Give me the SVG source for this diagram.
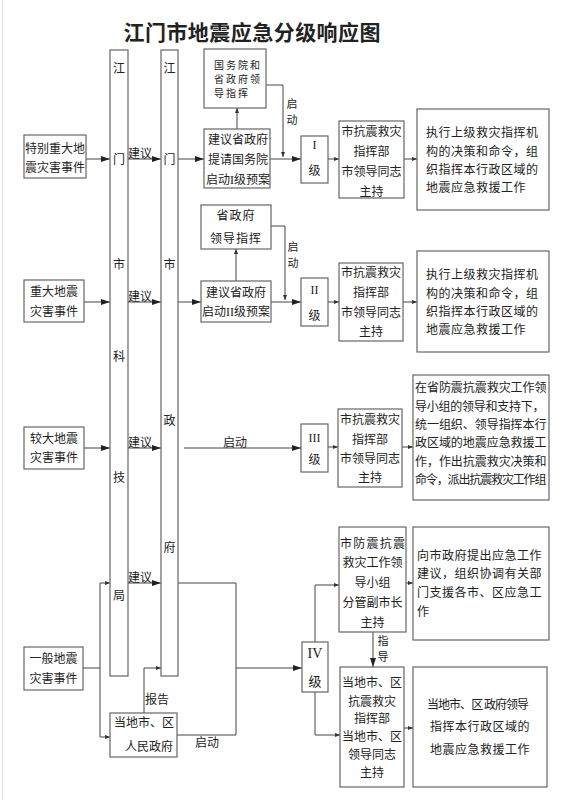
<svg xmlns="http://www.w3.org/2000/svg" width="565" height="800" viewBox="0 0 565 800">
<defs>
<style>
.box{fill:#fff;stroke:#666;stroke-width:1.2}
.ln{fill:none;stroke:#444;stroke-width:1}
.t{font-family:"Noto Sans CJK SC","Noto Sans CJK JP",sans-serif;font-size:12px;fill:#222;text-anchor:middle}
.l{text-anchor:start;letter-spacing:0.5px}
.s{font-size:10px;letter-spacing:2px;text-anchor:start}
.v{font-size:11px}
.r{font-family:"Liberation Serif","Noto Sans CJK SC",serif}
</style>
<marker id="a" markerWidth="9" markerHeight="6" refX="9" refY="3" orient="auto" markerUnits="userSpaceOnUse"><path d="M0,0 L9,3 L0,6 z" fill="#222"/></marker>
<marker id="b" markerWidth="5" markerHeight="4" refX="5" refY="2" orient="auto" markerUnits="userSpaceOnUse"><path d="M0,0 L5,2 L0,4 z" fill="#333"/></marker>
</defs>
<rect width="565" height="800" fill="#fff"/>
<line x1="2.5" y1="0" x2="2.5" y2="800" stroke="#ddd" stroke-width="1"/>
<text x="252" y="40" class="t" style="font-size:21px;font-weight:bold" textLength="257">江门市地震应急分级响应图</text>

<g id="connectors">
<path class="ln" marker-end="url(#a)" d="M86,159 H110"/>
<path class="ln" marker-end="url(#a)" d="M84,302 H110"/>
<path class="ln" marker-end="url(#a)" d="M84,448 H110"/>
<path class="ln" d="M83,668 H100 M100,583 V737"/>
<path class="ln" marker-end="url(#b)" d="M100,583 H110"/>
<path class="ln" marker-end="url(#b)" d="M100,737 H110"/>
<path class="ln" marker-end="url(#a)" d="M128,159 H161"/>
<path class="ln" marker-end="url(#a)" d="M128,302 H161"/>
<path class="ln" marker-end="url(#a)" d="M128,448 H161"/>
<path class="ln" marker-end="url(#a)" d="M128,583 H161"/>
<path class="ln" marker-end="url(#a)" d="M178,159 H204"/>
<path class="ln" marker-end="url(#a)" d="M178,302 H201"/>
<path class="ln" marker-end="url(#a)" d="M184,448 H301"/>
<path class="ln" d="M178,583 H236 V735 H177"/>
<path class="ln" marker-end="url(#a)" d="M236,668 H302"/>
<path class="ln" marker-end="url(#b)" d="M144,713 V668 H161"/>
<path class="ln" marker-end="url(#b)" d="M237,129 V108"/>
<path class="ln" marker-end="url(#b)" d="M236,281 V249"/>
<path class="ln" marker-end="url(#b)" d="M266,85 H283 V157"/>
<path class="ln" marker-end="url(#b)" d="M271,226 H285 V300"/>
<path class="ln" marker-end="url(#a)" d="M270,159 H301"/>
<path class="ln" marker-end="url(#a)" d="M271,302 H301"/>
<path class="ln" marker-end="url(#b)" d="M328,159 H339"/>
<path class="ln" marker-end="url(#b)" d="M328,302 H339"/>
<path class="ln" marker-end="url(#b)" d="M328,447 H338"/>
<path class="ln" marker-end="url(#b)" d="M404,159 H417"/>
<path class="ln" marker-end="url(#b)" d="M403,302 H417"/>
<path class="ln" marker-end="url(#b)" d="M402,447 H413"/>
<path class="ln" marker-end="url(#b)" d="M406,583 H413"/>
<path class="ln" marker-end="url(#b)" d="M404,728 H413"/>
<path class="ln" marker-end="url(#b)" d="M315,642 V585 H339"/>
<path class="ln" marker-end="url(#b)" d="M315,692 V735 H340"/>
<path class="ln" marker-end="url(#a)" d="M373,632 V667"/>
<text class="t" x="140" y="158">建议</text>
<text class="t" x="140" y="301">建议</text>
<text class="t" x="140" y="447">建议</text>
<text class="t" x="140" y="582">建议</text>
<text class="t" x="235" y="447">启动</text>
<text class="t" x="157" y="704">报告</text>
<text class="t" x="207" y="747">启动</text>
<text class="t v" x="292" y="108">启</text>
<text class="t v" x="292" y="124">动</text>
<text class="t v" x="293" y="251">启</text>
<text class="t v" x="293" y="267">动</text>
<text class="t v" x="383" y="645">指</text>
<text class="t v" x="383" y="661">导</text>
</g>

<g id="bar-keji">
<rect class="box" x="110" y="50" width="18" height="626"/>
<text class="t" x="119" y="73">江</text>
<text class="t" x="119" y="164">门</text>
<text class="t" x="119" y="269">市</text>
<text class="t" x="119" y="361">科</text>
<text class="t" x="119" y="482">技</text>
<text class="t" x="119" y="600">局</text>
</g>
<g id="bar-zhengfu">
<rect class="box" x="161" y="50" width="17" height="626"/>
<text class="t" x="169.5" y="73">江</text>
<text class="t" x="169.5" y="164">门</text>
<text class="t" x="169.5" y="269">市</text>
<text class="t" x="169.5" y="425">政</text>
<text class="t" x="169.5" y="552">府</text>
</g>

<g id="ev1"><rect class="box" x="24" y="135" width="62" height="43"/>
<text class="t" x="55" y="153">特别重大地</text><text class="t" x="55" y="172">震灾害事件</text></g>
<g id="ev2"><rect class="box" x="24" y="280" width="60" height="42"/>
<text class="t" x="54" y="296">重大地震</text><text class="t" x="54" y="316">灾害事件</text></g>
<g id="ev3"><rect class="box" x="24" y="427" width="60" height="42"/>
<text class="t" x="54" y="443">较大地震</text><text class="t" x="54" y="462">灾害事件</text></g>
<g id="ev4"><rect class="box" x="24" y="647" width="59" height="43"/>
<text class="t" x="53.5" y="663">一般地震</text><text class="t" x="53.5" y="683">灾害事件</text></g>

<g id="local-gov"><rect class="box" x="110" y="713" width="67" height="44"/>
<text class="t" x="144" y="727">当地市、区</text><text class="t" x="149" y="751">人民政府</text></g>

<g id="state-council"><rect class="box" x="204" y="49" width="62" height="59"/>
<text class="t s" x="214" y="69">国务院和</text><text class="t s" x="214" y="83">省政府领</text><text class="t s" x="214" y="97">导指挥</text></g>
<g id="propose1"><rect class="box" x="204" y="129" width="66" height="59"/>
<text class="t" x="238" y="144">建议省政府</text><text class="t" x="238" y="164">提请国务院</text><text class="t" x="238" y="184">启动<tspan class="r">I</tspan>级预案</text></g>
<g id="province"><rect class="box" x="201" y="205" width="70" height="44"/>
<text class="t" x="236" y="220" style="letter-spacing:1px">省政府</text><text class="t" x="236" y="243" style="letter-spacing:1px">领导指挥</text></g>
<g id="propose2"><rect class="box" x="201" y="281" width="70" height="41"/>
<text class="t" x="236" y="297">建议省政府</text><text class="t" x="236" y="316">启动<tspan class="r">II</tspan>级预案</text></g>

<g id="lv1"><rect class="box" x="301" y="136" width="27" height="47"/>
<text class="t r" x="314.5" y="149">I</text><text class="t" x="314.5" y="175">级</text></g>
<g id="lv2"><rect class="box" x="301" y="278" width="27" height="48"/>
<text class="t r" x="314.5" y="294">II</text><text class="t" x="314.5" y="320">级</text></g>
<g id="lv3"><rect class="box" x="301" y="424" width="27" height="48"/>
<text class="t r" x="314.5" y="442">III</text><text class="t" x="314.5" y="464">级</text></g>
<g id="lv4"><rect class="box" x="302" y="642" width="26" height="50"/>
<text class="t r" x="315" y="658" style="font-size:14px">IV</text><text class="t" x="315" y="686" style="font-size:13px">级</text></g>

<g id="cmd1"><rect class="box" x="339" y="121" width="65" height="77"/>
<text class="t" x="371.5" y="136">市抗震救灾</text><text class="t" x="371.5" y="156">指挥部</text><text class="t" x="371.5" y="176">市领导同志</text><text class="t" x="371.5" y="196">主持</text></g>
<g id="cmd2"><rect class="box" x="339" y="263" width="64" height="78"/>
<text class="t" x="371" y="277">市抗震救灾</text><text class="t" x="371" y="297">指挥部</text><text class="t" x="371" y="317">市领导同志</text><text class="t" x="371" y="336">主持</text></g>
<g id="cmd3"><rect class="box" x="338" y="409" width="64" height="78"/>
<text class="t" x="370" y="424">市抗震救灾</text><text class="t" x="370" y="444">指挥部</text><text class="t" x="370" y="463">市领导同志</text><text class="t" x="370" y="482">主持</text></g>
<g id="cmd4"><rect class="box" x="339" y="527" width="67" height="105"/>
<text class="t" x="372.5" y="548" textLength="65">市防震抗震</text><text class="t" x="372.5" y="567">救灾工作领</text><text class="t" x="372.5" y="587">导小组</text><text class="t" x="372.5" y="607">分管副市长</text><text class="t" x="372.5" y="627">主持</text></g>
<g id="cmd5"><rect class="box" x="340" y="667" width="64" height="120"/>
<text class="t" x="372" y="687">当地市、区</text><text class="t" x="372" y="706">抗震救灾</text><text class="t" x="372" y="723">指挥部</text><text class="t" x="372" y="741">当地市、区</text><text class="t" x="372" y="759">领导同志</text><text class="t" x="372" y="777">主持</text></g>

<g id="duty1"><rect class="box" x="417" y="109" width="132" height="101"/>
<text class="t l" x="426" y="137">执行上级救灾指挥机</text><text class="t l" x="426" y="156">构的决策和命令，组</text><text class="t l" x="426" y="174">织指挥本行政区域的</text><text class="t l" x="426" y="192">地震应急救援工作</text></g>
<g id="duty2"><rect class="box" x="417" y="251" width="132" height="101"/>
<text class="t l" x="426" y="279">执行上级救灾指挥机</text><text class="t l" x="426" y="298">构的决策和命令，组</text><text class="t l" x="426" y="316">织指挥本行政区域的</text><text class="t l" x="426" y="334">地震应急救援工作</text></g>
<g id="duty3"><rect class="box" x="413" y="375" width="136" height="125"/>
<text class="t l" x="415" y="392" textLength="132">在省防震抗震救灾工作领</text><text class="t l" x="415" y="411" textLength="130">导小组的领导和支持下，</text><text class="t l" x="415" y="429" textLength="132">统一组织、领导指挥本行</text><text class="t l" x="415" y="447" textLength="132">政区域的地震应急救援工</text><text class="t l" x="415" y="466" textLength="132">作，作出抗震救灾决策和</text><text class="t l" x="415" y="484" textLength="132">命令，派出抗震救灾工作组</text></g>
<g id="duty4"><rect class="box" x="413" y="527" width="136" height="113"/>
<text class="t l" x="417" y="560">向市政府提出应急工作</text><text class="t l" x="417" y="578">建议，组织协调有关部</text><text class="t l" x="417" y="597">门支援各市、区应急工</text><text class="t l" x="417" y="616">作</text></g>
<g id="duty5"><rect class="box" x="413" y="667" width="134" height="120"/>
<text class="t" x="478" y="709" textLength="102">当地市、区 政府领导</text><text class="t" x="480" y="731" style="letter-spacing:0.5px">指挥本行政区域的</text><text class="t" x="480" y="754" style="letter-spacing:0.5px">地震应急救援工作</text></g>
</svg>
